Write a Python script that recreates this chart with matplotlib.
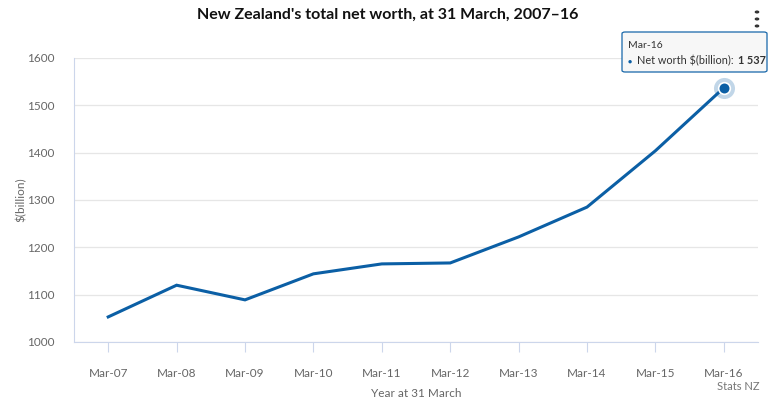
import matplotlib.pyplot as plt
from matplotlib.patches import FancyBboxPatch
import numpy as np

plt.rcParams['font.family'] = ['Lato', 'DejaVu Sans']

years = ['Mar-07', 'Mar-08', 'Mar-09', 'Mar-10', 'Mar-11',
         'Mar-12', 'Mar-13', 'Mar-14', 'Mar-15', 'Mar-16']
net_worth = [1053, 1120, 1089, 1144, 1165, 1167, 1222, 1285, 1404, 1537]
yticks = [1000, 1100, 1200, 1300, 1400, 1500, 1600]

line_col = '#0b5fa5'
axis_col = '#ccd6eb'
text_col = '#666666'

fig = plt.figure(figsize=(7.76, 4.01), dpi=100)
ax = fig.add_axes([74/776, 1-342/401, (758-74)/776, (342-58)/401])

x = np.arange(len(years))
ax.plot(x, net_worth, color=line_col, lw=2.2, solid_joinstyle='miter', zorder=3)

# highlighted last point
ax.scatter([x[-1]], [net_worth[-1]], s=230, color=line_col, alpha=0.25, lw=0, zorder=4)
ax.scatter([x[-1]], [net_worth[-1]], s=70, color=line_col, edgecolor='white', lw=1.2, zorder=5)

ax.set_xlim(-0.5, len(years) - 0.5)
ax.set_ylim(1000, 1600)
ax.set_yticks(yticks)
ax.set_xticks(x)
ax.set_xticklabels(years)
ax.grid(axis='y', color='#e6e6e6', lw=0.9)
ax.set_axisbelow(True)
for s in ['top', 'right']:
    ax.spines[s].set_visible(False)
ax.spines['left'].set_color(axis_col)
ax.spines['bottom'].set_color(axis_col)
ax.tick_params(axis='y', length=0, labelsize=8.5, labelcolor=text_col, pad=14)
ax.tick_params(axis='x', length=7, color=axis_col, labelsize=8.5, labelcolor=text_col, pad=12)
ax.set_ylabel('$(billion)', fontsize=8.5, color=text_col, labelpad=0)
ax.set_xlabel('Year at 31 March', fontsize=8.5, color=text_col, labelpad=6)

fig.text(0.5, 1-15/401, "New Zealand's total net worth, at 31 March, 2007\u201316",
         ha='center', va='center', fontsize=11.5, fontweight='bold', color='#111111')
fig.text(760/776, 1-387/401, 'Stats NZ', ha='right', va='center', fontsize=8, color='#777777')

# menu dots
for yy in [12, 19, 26]:
    fig.patches.append(plt.Circle((757/776, 1-yy/401), 1.6/776, transform=fig.transFigure,
                                  color='#333333', figure=fig))

# tooltip
box = FancyBboxPatch((622/776, 1-72/401), (767-622)/776, (72-32)/401,
                     boxstyle='round,pad=0,rounding_size=0.004', transform=fig.transFigure,
                     facecolor='#f7f7f7', edgecolor=line_col, lw=0.9, alpha=0.95, figure=fig)
fig.patches.append(box)
fig.text(628/776, 1-45/401, 'Mar-16', fontsize=7.5, color='#333333', va='center')
fig.text(628/776, 1-61/401, '\u25cf', fontsize=5, color=line_col, va='center')
lbl = fig.text(637/776, 1-61/401, 'Net worth $(billion): ', fontsize=7.8, color='#333333', va='center')
fig.canvas.draw()
bb = lbl.get_window_extent()
fig.text(bb.x1 / 776 + 2/776, 1-61/401, '1 537', fontsize=7.8, fontweight='bold',
         color='#333333', va='center')

fig.savefig('out.png', dpi=100)
